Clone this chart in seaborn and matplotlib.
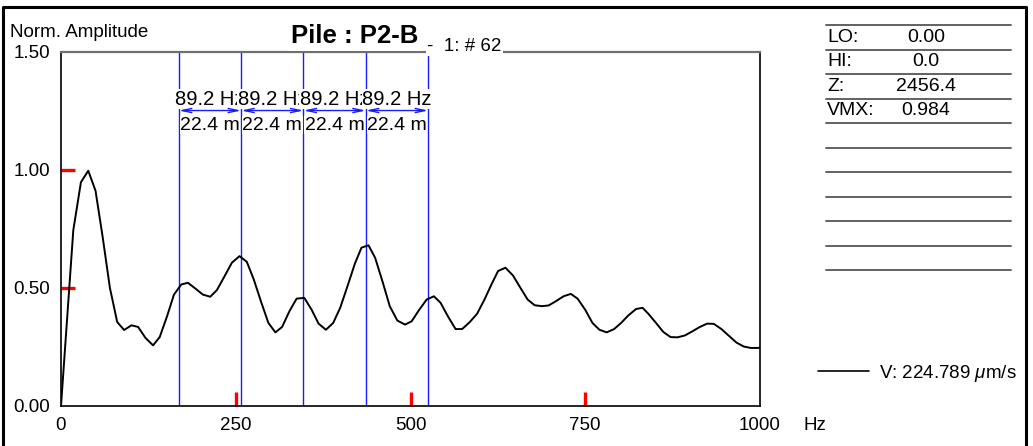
import matplotlib
matplotlib.use("Agg")
import matplotlib.pyplot as plt
from matplotlib.lines import Line2D
import seaborn as sns
import pandas as pd

# ---------------- data ----------------
freq_hz = [0, 17.6, 28.5, 39, 49.4, 59.4, 70, 80.4, 90.3, 100.8,
           110.3, 121, 131.7, 141.2, 151.7, 161.6, 172.1, 181.6, 192.1, 203,
           213.5, 223, 234, 244.4, 255.4, 265.8, 275.8, 286.3, 296.7, 306.7,
           316.3, 326.7, 337.1, 348.1, 358.5, 368.5, 379, 389.4, 399.4, 409.9,
           420.4, 429.9, 439.9, 449.4, 459.8, 470.3, 481.2, 492.2, 501.7, 512.1,
           523.1, 533.5, 543.1, 553.5, 564.5, 573.9, 584.9, 595.3, 605.8, 615.8,
           625.3, 635.8, 646.6, 657.2, 667.6, 677.6, 688, 697.6, 708, 719,
           729.4, 739, 749.9, 760.3, 770.3, 780.7, 791.3, 801.3, 811.7, 822.7,
           832, 840.2, 851.2, 861.6, 872, 882, 892.6, 903, 914, 924.4,
           933.9, 944.8, 955.3, 966.2, 976.7, 986.7, 997, 1001]
amplitude = [0, 0.745, 0.948, 0.997, 0.912, 0.72, 0.5, 0.356, 0.322, 0.342,
             0.335, 0.288, 0.257, 0.292, 0.38, 0.472, 0.515, 0.522, 0.498, 0.472,
             0.463, 0.491, 0.55, 0.607, 0.635, 0.611, 0.536, 0.441, 0.352, 0.312,
             0.335, 0.401, 0.455, 0.458, 0.408, 0.349, 0.323, 0.352, 0.416, 0.508,
             0.603, 0.671, 0.681, 0.628, 0.529, 0.423, 0.362, 0.345, 0.359, 0.406,
             0.451, 0.465, 0.437, 0.38, 0.326, 0.326, 0.356, 0.391, 0.451, 0.515,
             0.572, 0.586, 0.553, 0.501, 0.451, 0.427, 0.423, 0.426, 0.444, 0.465,
             0.475, 0.455, 0.408, 0.352, 0.323, 0.312, 0.326, 0.352, 0.384, 0.411,
             0.416, 0.391, 0.352, 0.314, 0.292, 0.291, 0.299, 0.316, 0.335, 0.349,
             0.348, 0.326, 0.298, 0.269, 0.252, 0.246, 0.246, 0.248]

cursor_hz = [168.5, 257.7, 346.9, 436.1, 525.3]
interval_labels = ["89.2 Hz", "89.2 Hz", "89.2 Hz", "89.2 Hz"]
length_labels = ["22.4 m", "22.4 m", "22.4 m", "22.4 m"]

x_ticks = [0, 250, 500, 750, 1000]
x_ticklabels = ["0", "250", "500", "750", "1000"]
x_red_ticks = [250, 500, 750]
y_ticks = [0.0, 0.5, 1.0, 1.5]
y_ticklabels = ["0.00", "0.50", "1.00", "1.50"]
y_red_ticks = [0.5, 1.0]

panel_labels = ["LO:", "HI:", "Z:", "VMX:"]
panel_values = ["0.00", "0.0", "2456.4", "0.984"]
n_panel_lines = 11

title_main = "Pile : P2-B"
title_sub = "-  1: # 62"
y_title = "Norm. Amplitude"
x_unit = "Hz"
series_label = "V: 224.789 $\\mu$m/s"

# ---------------- style ----------------
sns.set_style("white")
plt.rcParams["font.family"] = ["Liberation Sans", "DejaVu Sans"]
plt.rcParams["mathtext.fontset"] = "custom"
plt.rcParams["mathtext.rm"] = "Liberation Sans"
plt.rcParams["mathtext.it"] = "Liberation Sans:italic"
plt.rcParams["text.color"] = "black"
plt.rcParams["xtick.labelcolor"] = "black"
plt.rcParams["ytick.labelcolor"] = "black"

W, H = 1033, 446
fig = plt.figure(figsize=(W / 100, H / 100), dpi=100)
fig.patch.set_facecolor("white")


def fx(px):
    return px / W


def fy(py):
    return 1 - py / H


x0, x1, ytop, ybot = 61, 760, 52, 406
ax = fig.add_axes([fx(x0), fy(ybot), fx(x1) - fx(x0), fy(ytop) - fy(ybot)])
ax.set_facecolor("white")

df = pd.DataFrame({"freq": freq_hz, "amp": amplitude})
sns.lineplot(data=df, x="freq", y="amp", ax=ax, color="black", lw=1.4,
             sort=False, label=series_label, zorder=3)

for c in cursor_hz:
    ax.axvline(c, color="#1a1aff", lw=1.0, zorder=2)

FS = 13.5
for i in range(len(cursor_hz) - 1):
    mid = (cursor_hz[i] + cursor_hz[i + 1]) / 2
    ax.text(mid, 1.30, interval_labels[i], ha="center", va="center",
            fontsize=14.5, zorder=4,
            bbox=dict(facecolor="white", edgecolor="none", pad=0.5))
    ax.annotate("", xy=(cursor_hz[i + 1], 1.252), xytext=(cursor_hz[i], 1.252),
                arrowprops=dict(arrowstyle="<->,head_length=0.7,head_width=0.15",
                                color="#1a1aff", lw=1.0, shrinkA=0, shrinkB=0),
                zorder=4)
    ax.text(mid, 1.19, length_labels[i], ha="center", va="center",
            fontsize=14, zorder=4,
            bbox=dict(facecolor="white", edgecolor="none", pad=0.3))

ax.set_xlim(0, 1000)
ax.set_ylim(0, 1.5)
ax.set_xlabel("")
ax.set_ylabel("")

ax.set_xticks(x_ticks)
ax.set_xticklabels(x_ticklabels, fontsize=FS)
ax.set_yticks(y_ticks)
ax.set_yticklabels(y_ticklabels, fontsize=FS)
ax.set_xticks(x_red_ticks, minor=True)
ax.set_yticks(y_red_ticks, minor=True)
ax.xaxis.remove_overlapping_locs = False
ax.yaxis.remove_overlapping_locs = False
ax.tick_params(axis="both", which="major", length=0, pad=8, labelcolor="black")
ax.tick_params(axis="x", which="minor", direction="in", length=10, width=2.4,
               color="red", bottom=True)
ax.tick_params(axis="y", which="minor", direction="in", length=10, width=2.4,
               color="red", left=True)

for s in ["left", "bottom", "right"]:
    ax.spines[s].set_color("black")
    ax.spines[s].set_linewidth(1.2)
ax.spines["top"].set_color("#707070")
ax.spines["top"].set_linewidth(1.6)

leg = ax.legend(loc="center left", bbox_to_anchor=(fx(818), fy(373)),
                bbox_transform=fig.transFigure, frameon=False, fontsize=FS,
                handlelength=2.7, handletextpad=0.55, borderpad=0,
                borderaxespad=0)
for h in leg.get_lines():
    h.set_linewidth(1.2)
for t in leg.get_texts():
    t.set_color("black")

# titles and axis texts
fig.text(fx(355), fy(43), title_main, ha="center", va="baseline",
         fontsize=18.5, fontweight="bold", zorder=5,
         bbox=dict(facecolor="white", edgecolor="none", pad=2))
fig.text(fx(427), fy(51), title_sub, ha="left", va="baseline", fontsize=FS,
         zorder=5, bbox=dict(facecolor="white", edgecolor="none", pad=1))
fig.text(fx(10), fy(37), y_title, ha="left", va="baseline", fontsize=FS)
fig.text(fx(815), fy(425), x_unit, ha="center", va="center", fontsize=FS)

# right info panel
panel_l, panel_r, panel_top, panel_step = 826, 1011, 25, 24.5
for k in range(n_panel_lines):
    y = panel_top + k * panel_step
    fig.add_artist(Line2D([fx(panel_l), fx(panel_r)], [fy(y), fy(y)],
                          color="#555555", lw=1.3))
for k, (lab, val) in enumerate(zip(panel_labels, panel_values)):
    yc = panel_top + (k + 0.5) * panel_step
    fig.text(fx(827), fy(yc), lab, ha="left", va="center", fontsize=14)
    fig.text(fx(926), fy(yc), val, ha="center", va="center", fontsize=14)

# outer border (bottom edge outside the image)
fig.add_artist(Line2D([fx(3), fx(3), fx(1026), fx(1026)],
                      [fy(450), fy(7), fy(7), fy(450)],
                      color="black", lw=2.2))

fig.savefig("out.png", dpi=100, facecolor="white")
